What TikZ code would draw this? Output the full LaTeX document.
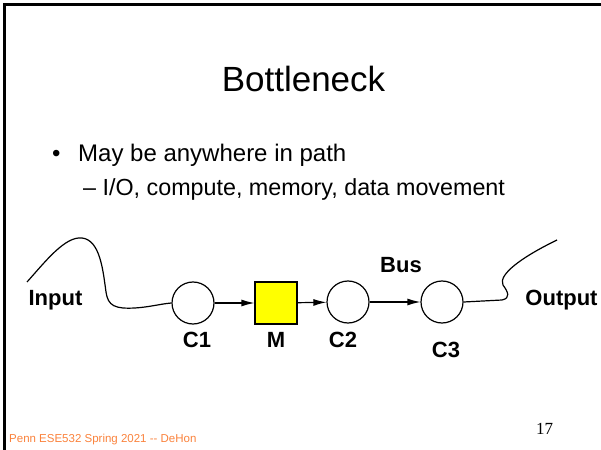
\documentclass[tikz,border=0pt]{standalone}
\usepackage{fontspec}
\setmainfont{Liberation Sans}
\newfontfamily\pagenumfont{Liberation Serif}
\usetikzlibrary{arrows.meta}
\definecolor{footorange}{RGB}{250,130,60}
\definecolor{memyellow}{RGB}{255,255,0}

\begin{document}
\begin{tikzpicture}[x=1bp, y=-1bp, >={Latex[length=13bp,width=7bp]},
  stage/.style={circle, draw, line width=1.2bp, minimum size=42bp, inner sep=0pt},
  lbl/.style={font=\bfseries\fontsize{22bp}{26bp}\selectfont, anchor=base, inner sep=0pt},
  wire/.style={line width=1.2bp}]

\useasboundingbox (0,0) rectangle (601,450);

% ===== slide frame (only top and left edges show) =====
\draw[line width=2.5bp] (4.5,450) -- (4.5,4.5) -- (601,4.5);

% ===== title and bullets =====
\node[anchor=base, inner sep=0pt, font=\fontsize{35bp}{40bp}\selectfont]
  (title) at (303.5,92) {Bottleneck};
\node[anchor=base west, inner sep=0pt, font=\fontsize{24bp}{28bp}\selectfont]
  (dot) at (52,162) {•};
\node[anchor=base west, inner sep=0pt, font=\fontsize{24bp}{28bp}\selectfont]
  (point) at (78,162) {May be anywhere in path};
\node[anchor=base west, inner sep=0pt, font=\fontsize{23.3bp}{27bp}\selectfont]
  (subpoint) at (83,196) {– I/O, compute, memory, data movement};

% ===== pipeline =====
\node[stage] (c1) at (193,303) {};
\node[draw, fill=memyellow, line width=1.2bp, minimum size=42bp, inner sep=0pt]
  (m) at (276,303) {};
\node[stage] (c2) at (348,302) {};
\node[stage] (c3) at (442,302) {};

\draw[wire, ->] (c1) -- (m);
\draw[wire, ->] (m) -- (c2);
\draw[wire, ->] (c2) -- (c3);

% labels
\node[lbl] (inlbl)  at (55.5,305) {Input};
\node[lbl] (outlbl) at (561.5,305) {Output};
\node[lbl] (buslbl) at (401,273) {Bus};
\node[lbl] (c1lbl)  at (197,347) {C1};
\node[lbl] (mlbl)   at (276,347) {M};
\node[lbl] (c2lbl)  at (343,347) {C2};
\node[lbl] (c3lbl)  at (446,357) {C3};

% wiggly input and output wires
\coordinate (inend) at (27,282);
\coordinate (outend) at (557,240);
\draw[wire] (inend) .. controls (45,262) and (65,236) .. (82,238)
  .. controls (100,240) and (103,270) .. (106,292)
  .. controls (108,306) and (115,309) .. (135,308)
  .. controls (150,307) and (160,304) .. (c1.west);
\draw[wire] (c3.east) -- (502,300)
  .. controls (511,298) and (508,292) .. (503,285)
  .. controls (498,275) and (520,258) .. (outend);

% ===== footer =====
\node[anchor=base west, inner sep=0pt, text=footorange,
  font=\fontsize{11.5bp}{13bp}\selectfont] (foot) at (9,442)
  {Penn ESE532 Spring 2021 -{}- DeHon};
\node[anchor=base west, inner sep=0pt, font=\pagenumfont\fontsize{17bp}{20bp}\selectfont]
  (pagenum) at (536,434) {17};

\end{tikzpicture}
\end{document}
